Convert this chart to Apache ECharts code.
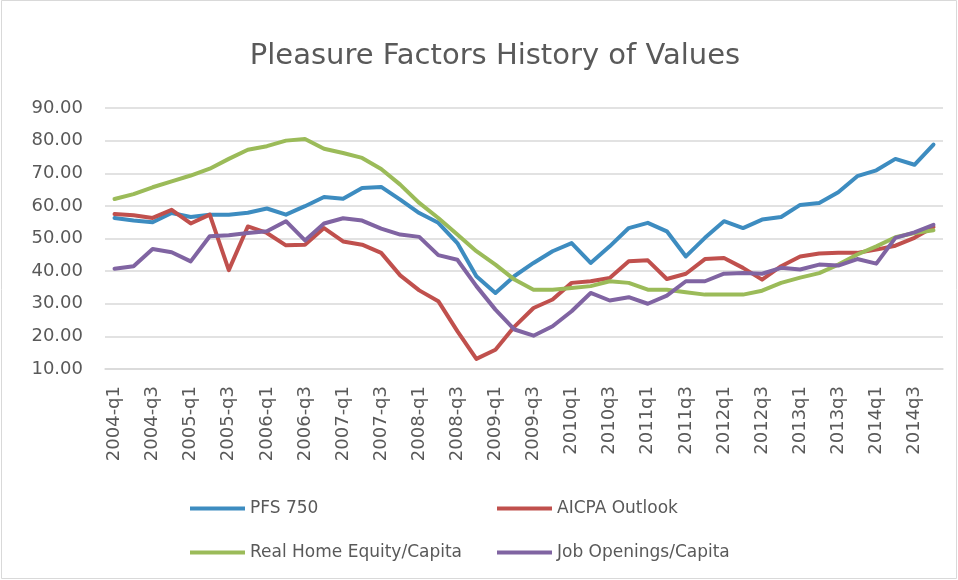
<!DOCTYPE html>
<html>
<head>
<meta charset="utf-8">
<script src="https://cdn.jsdelivr.net/npm/echarts@6/dist/echarts.min.js"></script>
<style>
  html, body { margin: 0; padding: 0; background: #fff; }
  #main { width: 958px; height: 580px; }
</style>
</head>
<body>
<div id="main"></div>
<script>
// quarterly categories, 2004q1 - 2014q4
var quarters = [
  '2004-q1','2004-q2','2004-q3','2004-q4','2005-q1','2005-q2','2005-q3','2005-q4',
  '2006-q1','2006-q2','2006-q3','2006-q4','2007-q1','2007-q2','2007-q3','2007-q4',
  '2008-q1','2008-q2','2008-q3','2008-q4','2009-q1','2009-q2','2009-q3','2009-q4',
  '2010q1','2010q2','2010q3','2010q4','2011q1','2011q2','2011q3','2011q4',
  '2012q1','2012q2','2012q3','2012q4','2013q1','2013q2','2013q3','2013q4',
  '2014q1','2014q2','2014q3','2014q4'
];

var pfs750 = [56.3, 55.5, 55.0, 57.8, 56.6, 57.3, 57.3, 57.9, 59.2, 57.3, 59.9, 62.7,
  62.2, 65.5, 65.8, 61.9, 57.8, 54.8, 48.6, 38.4, 33.3, 38.5, 42.5, 46.1,
  48.6, 42.5, 47.6, 53.2, 54.8, 52.2, 44.5, 50.2, 55.3, 53.2, 55.8, 56.6,
  60.3, 60.9, 64.2, 69.1, 70.9, 74.4, 72.6, 78.8];

var aicpa = [57.5, 57.1, 56.3, 58.8, 54.6, 57.3, 40.3, 53.7, 51.7, 47.9, 48.1, 53.2,
  49.1, 48.1, 45.6, 38.7, 34.1, 30.8, 21.6, 13.1, 15.9, 23.0, 28.7, 31.3,
  36.4, 36.9, 37.9, 43.0, 43.3, 37.6, 39.2, 43.7, 44.0, 41.0, 37.4, 41.5,
  44.5, 45.4, 45.6, 45.6, 46.6, 47.8, 50.2, 53.5];

var homeEquity = [62.1, 63.6, 65.7, 67.5, 69.3, 71.4, 74.4, 77.2, 78.3, 80.0, 80.5, 77.5,
  76.2, 74.7, 71.3, 66.5, 60.9, 56.3, 51.2, 46.1, 42.0, 37.4, 34.3, 34.3,
  34.8, 35.4, 36.9, 36.4, 34.3, 34.3, 33.5, 32.8, 32.8, 32.8, 34.0, 36.4,
  38.0, 39.4, 42.0, 45.1, 47.6, 50.4, 51.7, 52.5];

var jobOpenings = [40.7, 41.5, 46.8, 45.8, 43.0, 50.7, 51.0, 51.7, 52.2, 55.3, 49.4, 54.6,
  56.2, 55.5, 53.0, 51.2, 50.5, 44.9, 43.5, 35.4, 28.2, 22.1, 20.2, 23.1,
  27.7, 33.3, 31.0, 32.0, 30.0, 32.5, 36.9, 36.9, 39.2, 39.4, 39.2, 41.0,
  40.5, 42.0, 41.7, 43.7, 42.3, 50.2, 51.9, 54.2];

var yTicks = { min: 10, max: 90, interval: 10 };

var textColor = '#595959';
var font = '"DejaVu Sans", sans-serif';

function mkSeries(name, data, color) {
  return {
    name: name,
    type: 'line',
    data: data,
    symbol: 'none',
    smooth: false,
    lineStyle: { width: 4, color: color, cap: 'round', join: 'round' },
    itemStyle: { color: color }
  };
}

// one legend per item so each one sits where the original puts it
function mkLegend(name, left, top) {
  return {
    data: [name],
    left: left,
    top: top,
    itemWidth: 55,
    itemHeight: 4,
    itemGap: 0,
    icon: 'rect',
    textStyle: { color: textColor, fontSize: 17, fontFamily: font }
  };
}

var chart = echarts.init(document.getElementById('main'));
chart.setOption({
  animation: false,
  backgroundColor: '#fff',
  title: {
    text: 'Pleasure Factors History of Values',
    left: 490,
    textAlign: 'center',
    top: 37,
    textStyle: { color: textColor, fontSize: 29, fontWeight: 'normal', fontFamily: font }
  },
  legend: [
    mkLegend('PFS 750', 185, 495),
    mkLegend('AICPA Outlook', 492, 495),
    mkLegend('Real Home Equity/Capita', 185, 539),
    mkLegend('Job Openings/Capita', 492, 539)
  ],
  grid: { left: 105, right: 15, top: 108, bottom: 211 },
  xAxis: {
    type: 'category',
    data: quarters,
    boundaryGap: true,
    axisLine: { show: true, lineStyle: { color: '#d9d9d9', width: 1.5 } },
    axisTick: { show: false },
    axisLabel: {
      interval: 1,
      rotate: 90,
      color: textColor,
      fontSize: 18,
      fontFamily: font,
      margin: 17
    }
  },
  yAxis: {
    type: 'value',
    min: yTicks.min,
    max: yTicks.max,
    interval: yTicks.interval,
    axisLine: { show: false },
    axisTick: { show: false },
    splitLine: { lineStyle: { color: '#d9d9d9', width: 1.5 } },
    axisLabel: {
      color: textColor,
      fontSize: 18,
      fontFamily: font,
      margin: 22,
      formatter: function (v) { return v.toFixed(2); }
    }
  },
  series: [
    mkSeries('PFS 750', pfs750, '#3D8CC0'),
    mkSeries('AICPA Outlook', aicpa, '#C0504D'),
    mkSeries('Real Home Equity/Capita', homeEquity, '#9BBB59'),
    mkSeries('Job Openings/Capita', jobOpenings, '#8064A2')
  ],
  graphic: [{
    type: 'rect',
    shape: { x: 1.5, y: 0.5, width: 955, height: 578 },
    style: { fill: 'none', stroke: '#d9d9d9', lineWidth: 1 },
    silent: true
  }]
});
</script>
</body>
</html>
